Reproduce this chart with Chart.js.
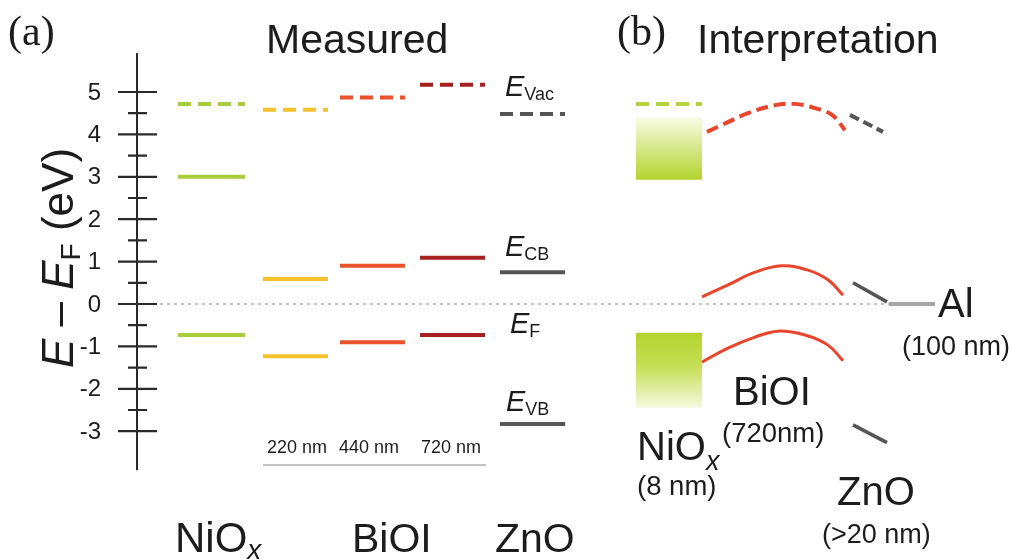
<!DOCTYPE html>
<html lang="en">
<head>
<meta charset="UTF-8">
<title>Energy levels NiOx / BiOI / ZnO</title>
<script src="https://cdn.jsdelivr.net/npm/chart.js"></script>
<style>
    html, body { margin: 0; padding: 0; background: #fff; }
    .chart-container { position: relative; width: 1013px; height: 560px; }
</style>
</head>
<body>
<div class="chart-container"><canvas id="bands"></canvas></div>
<script>
    // (a) measured levels, eV relative to E_F
    const layers   = ['NiOx', '220 nm', '440 nm', '720 nm', 'ZnO'];
    const vacLevel = [4.72, 4.58, 4.87, 5.17, 4.48];
    const cbLevel  = [3.00, 0.59, 0.90, 1.09, 0.75];
    const vbLevel  = [-0.73, -1.23, -0.90, -0.73, -2.83];

    // axis ticks
    const majorTicks = [5, 4, 3, 2, 1, 0, -1, -2, -3];
    const minorTicks = [4.5, 3.5, 2.5, 1.5, 0.5, -0.5, -1.5, -2.5];
    const axisEnds   = [5.92, -3.92];

    // (b) interpretation: NiOx blocks, bent BiOI bands, ZnO and Al
    const niVac      = 4.72;
    const niUpper    = [4.40, 2.93];
    const niLower    = [-0.68, -2.45];
    const vacBendX   = [707, 728, 748, 775, 795, 815, 832, 845];
    const vacBend    = [4.06, 4.29, 4.50, 4.69, 4.72, 4.62, 4.46, 4.10];
    const cbBendX    = [702, 728, 755, 782, 808, 828, 843];
    const cbBend     = [0.17, 0.45, 0.75, 0.90, 0.80, 0.57, 0.21];
    const vbBendX    = [702, 728, 755, 778, 805, 828, 843];
    const vbBend     = [-1.37, -1.04, -0.78, -0.64, -0.73, -0.97, -1.34];
    const znVac      = [4.46, 4.06];
    const znCb       = [0.50, 0.05];
    const znVb       = [-2.85, -3.27];
    const alLevel    = 0;

    // layout (x in px of the 1013 wide figure) and colours
    const colSpan  = [[178, 245], [263, 328], [340, 405], [420, 485], [500, 565]];
    const colColor = ['#a8cd3c', '#f6c12b', '#e9532b', '#a52120', '#555555'];
    const niSpan = [636, 702];
    const znSpan = [850, 886];
    const alSpan = [889, 935];

    const TXT = '#1c1c1c';
    const SANS = '"Liberation Sans", Arial, sans-serif';
    const SERIF = '"Liberation Serif", "Times New Roman", serif';

    function seg(x0, x1, y0, y1) {
        return [{ x: x0, y: y0 }, { x: x1, y: (y1 === undefined ? y0 : y1) }];
    }
    function lineSet(data, color, width, dash, extra) {
        return Object.assign({
            data: data, borderColor: color, borderWidth: width, borderDash: dash || [],
            borderCapStyle: 'butt', pointRadius: 0, fill: false, tension: 0, spanGaps: false
        }, extra || {});
    }
    function blockFill(top, bottom, stops) {
        return function (context) {
            const chart = context.chart;
            const ys = chart.scales.y;
            if (!chart.chartArea || !ys) return stops[0][1];
            const g = chart.ctx.createLinearGradient(0, ys.getPixelForValue(top), 0, ys.getPixelForValue(bottom));
            stops.forEach(s => g.addColorStop(s[0], s[1]));
            return g;
        };
    }

    const datasets = [];

    // axis line and ticks
    datasets.push(lineSet([{ x: 137, y: axisEnds[0] }, { x: 137, y: axisEnds[1] }], '#2a2a2a', 2));
    datasets.push(lineSet(majorTicks.flatMap(v => [{ x: 118, y: v }, { x: 157, y: v }, { x: 157, y: null }]), '#2a2a2a', 2.2));
    datasets.push(lineSet(minorTicks.flatMap(v => [{ x: 128, y: v }, { x: 147, y: v }, { x: 147, y: null }]), '#2a2a2a', 2.2));

    // Fermi level (dotted)
    datasets.push(lineSet(seg(160, 890, 0), '#b0b0b0', 1.5, [3, 4]));

    // (a) levels
    layers.forEach((name, i) => {
        const [x0, x1] = colSpan[i];
        datasets.push(lineSet(seg(x0, x1, vacLevel[i]), colColor[i], 4, [13, 7]));
        datasets.push(lineSet(seg(x0, x1, cbLevel[i]), colColor[i], 4));
        datasets.push(lineSet(seg(x0, x1, vbLevel[i]), colColor[i], 4));
    });
    // bracket under the BiOI thicknesses
    datasets.push(lineSet(seg(263, 486, -3.80), '#c4c4c4', 2));

    // (b) NiOx blocks
    datasets.push(lineSet(seg(niSpan[0], niSpan[1], niVac), '#b3d341', 4, [13, 7]));
    datasets.push(lineSet(seg(niSpan[0], niSpan[1], niUpper[0]), 'rgba(0,0,0,0)', 1, [],
        { fill: '+1', backgroundColor: blockFill(niUpper[0], niUpper[1], [[0, '#f8fbe6'], [0.55, '#d3e57f'], [1, '#b4d32c']]) }));
    datasets.push(lineSet(seg(niSpan[0], niSpan[1], niUpper[1]), 'rgba(0,0,0,0)', 1));
    datasets.push(lineSet(seg(niSpan[0], niSpan[1], niLower[0]), 'rgba(0,0,0,0)', 1, [],
        { fill: '+1', backgroundColor: blockFill(niLower[0], niLower[1], [[0, '#b4d32c'], [0.45, '#c6de55'], [1, '#f5f9df']]) }));
    datasets.push(lineSet(seg(niSpan[0], niSpan[1], niLower[1]), 'rgba(0,0,0,0)', 1));

    // (b) bent BiOI bands
    const curve = (xs, ys) => xs.map((x, i) => ({ x: x, y: ys[i] }));
    datasets.push(lineSet(curve(vacBendX, vacBend), '#e9452c', 4, [12, 6], { tension: 0.4 }));
    datasets.push(lineSet(curve(cbBendX, cbBend), '#e9452c', 3, [], { tension: 0.4 }));
    datasets.push(lineSet(curve(vbBendX, vbBend), '#e9452c', 3, [], { tension: 0.4 }));

    // (b) ZnO and Al
    datasets.push(lineSet(seg(znSpan[0], znSpan[1] - 3, znVac[0], znVac[1]), '#555555', 4, [10, 5]));
    datasets.push(lineSet(seg(znSpan[0] + 3, znSpan[1] + 1, znCb[0], znCb[1]), '#555555', 3.5));
    datasets.push(lineSet(seg(znSpan[0] + 3, znSpan[1] + 1, znVb[0], znVb[1]), '#555555', 3.5));
    datasets.push(lineSet(seg(alSpan[0], alSpan[1], alLevel), '#a5a5a5', 4));

    // text with sub/superscripts: parts = [text, font, dy]
    function drawRich(ctx, x, y, parts, align) {
        let w = 0;
        parts.forEach(p => { ctx.font = p[1]; w += ctx.measureText(p[0]).width; });
        let cx = align === 'center' ? x - w / 2 : (align === 'right' ? x - w : x);
        parts.forEach(p => {
            ctx.font = p[1];
            ctx.fillText(p[0], cx, y + (p[2] || 0));
            cx += ctx.measureText(p[0]).width;
        });
    }

    const texts = [
        [8, 45, [['(a)', '42px ' + SERIF]]],
        [266, 53, [['Measured', '41px ' + SANS]]],
        [617, 45, [['(b)', '42px ' + SERIF]]],
        [697, 53, [['Interpretation', '41px ' + SANS]]],
        [505, 96, [['E', 'italic 29px ' + SANS], ['Vac', '18px ' + SANS, 4]]],
        [505, 256, [['E', 'italic 29px ' + SANS], ['CB', '18px ' + SANS, 4]]],
        [510, 333, [['E', 'italic 29px ' + SANS], ['F', '18px ' + SANS, 4]]],
        [506, 411, [['E', 'italic 29px ' + SANS], ['VB', '18px ' + SANS, 4]]],
        [267, 453, [['220 nm', '18px ' + SANS]]],
        [339, 453, [['440 nm', '18px ' + SANS]]],
        [421, 453, [['720 nm', '18px ' + SANS]]],
        [175, 552, [['NiO', '42px ' + SANS], ['x', 'italic 28px ' + SANS, 7]]],
        [352, 552, [['BiOI', '41px ' + SANS]]],
        [495, 552, [['ZnO', '41px ' + SANS]]],
        [938, 317, [['Al', '40px ' + SANS]]],
        [902, 355, [['(100 nm)', '27px ' + SANS]]],
        [733, 405, [['BiOI', '40px ' + SANS]]],
        [722, 442, [['(720nm)', '27.5px ' + SANS]]],
        [637, 460, [['NiO', '40px ' + SANS], ['x', 'italic 27px ' + SANS, 10]]],
        [637, 495, [['(8 nm)', '27.5px ' + SANS]]],
        [837, 505, [['ZnO', '40px ' + SANS]]],
        [822, 543, [['(>20 nm)', '27px ' + SANS]]]
    ];

    const labelPlugin = {
        id: 'labels',
        afterDatasetsDraw(chart) {
            const ctx = chart.ctx;
            const ys = chart.scales.y;
            ctx.save();
            ctx.fillStyle = TXT;
            ctx.textBaseline = 'alphabetic';
            texts.forEach(t => drawRich(ctx, t[0], t[1], t[2], 'left'));

            // tick labels from the tick values
            ctx.font = '24px ' + SANS;
            ctx.textAlign = 'right';
            ctx.textBaseline = 'middle';
            majorTicks.forEach(v => ctx.fillText(String(v), 101, ys.getPixelForValue(v) + 1));
            ctx.textAlign = 'left';
            ctx.textBaseline = 'alphabetic';

            // rotated axis title
            ctx.translate(73, 258);
            ctx.rotate(-Math.PI / 2);
            drawRich(ctx, 0, 0, [
                ['E', 'italic 44px ' + SANS], [' \u2013 ', '44px ' + SANS],
                ['E', 'italic 44px ' + SANS], ['F', '28px ' + SANS, 7], [' (eV)', '44px ' + SANS]
            ], 'center');
            ctx.restore();
        }
    };

    new Chart(document.getElementById('bands'), {
        type: 'line',
        data: { datasets: datasets },
        options: {
            responsive: true,
            maintainAspectRatio: false,
            animation: false,
            layout: { padding: 0 },
            plugins: { legend: { display: false }, tooltip: { enabled: false } },
            scales: {
                x: { type: 'linear', min: 0, max: 1013, display: false },
                y: { type: 'linear', min: -6.038, max: 7.170, display: false }
            }
        },
        plugins: [labelPlugin]
    });
</script>
</body>
</html>
